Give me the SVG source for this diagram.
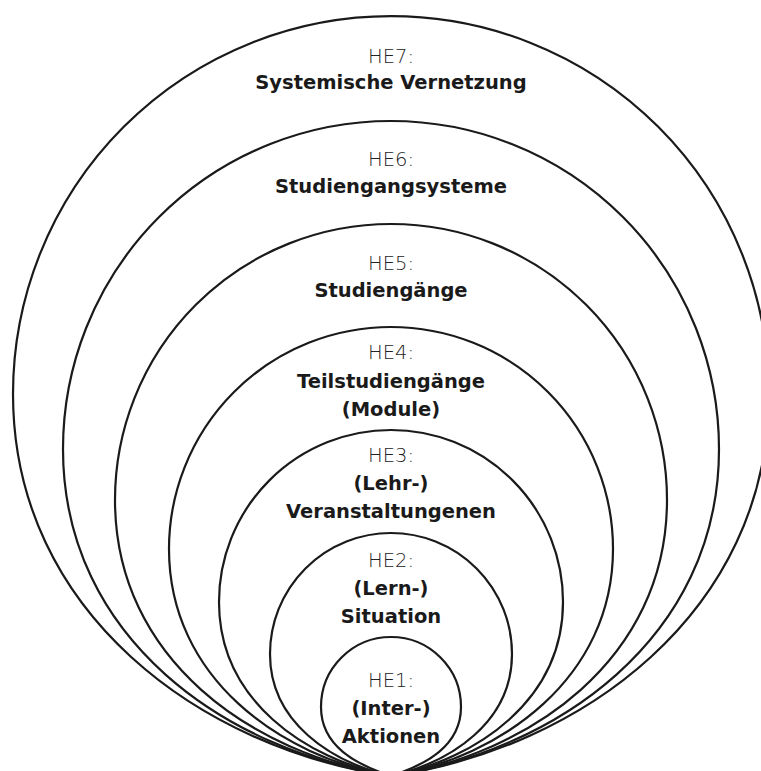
<svg xmlns="http://www.w3.org/2000/svg" width="761" height="771" viewBox="0 0 761 771">
<style>
.ring{fill:none;stroke:#1a1a1a;stroke-width:2.2;stroke-linejoin:round}
.lv{font-family:"DejaVu Sans","Liberation Sans",sans-serif;font-size:19.5px;font-weight:200;fill:#222;text-anchor:middle}
.lb{font-family:"DejaVu Sans","Liberation Sans",sans-serif;font-size:19.5px;font-weight:bold;fill:#1a1a1a;text-anchor:middle}
</style>
<rect width="761" height="771" fill="#fff"/>
<g id="he7">
<path class="ring" d="M13,394 A378,378 0 0 1 769,394 C769,613 580,749 391,776 C202,749 13,613 13,394 Z"/>
<text class="lv" x="391" y="63">HE7:</text>
<text class="lb" x="391" y="89">Systemische Vernetzung</text>
</g>
<g id="he6">
<path class="ring" d="M63,449 A328,328 0 0 1 719,449 C719,639 555,751.6 391,776 C227,751.6 63,639 63,449 Z"/>
<text class="lv" x="391" y="166">HE6:</text>
<text class="lb" x="391" y="193">Studiengangsysteme</text>
</g>
<g id="he5">
<path class="ring" d="M115,500 A276,276 0 0 1 667,500 C667,660 529,754.2 391,776 C253,754.2 115,660 115,500 Z"/>
<text class="lv" x="391" y="270">HE5:</text>
<text class="lb" x="391" y="297">Studiengänge</text>
</g>
<g id="he4">
<path class="ring" d="M169,549 A222,222 0 0 1 613,549 C613,677.8 502,757 391,776 C280,757 169,677.8 169,549 Z"/>
<text class="lv" x="391" y="359">HE4:</text>
<text class="lb" x="391" y="388">Teilstudiengänge</text>
<text class="lb" x="391" y="416">(Module)</text>
</g>
<g id="he3">
<path class="ring" d="M219,602 A172,172 0 0 1 563,602 C563,700 477,759.4 391,776 C305,759.4 219,700 219,602 Z"/>
<text class="lv" x="391" y="462">HE3:</text>
<text class="lb" x="391" y="490">(Lehr-)</text>
<text class="lb" x="391" y="518">Veranstaltungenen</text>
</g>
<g id="he2">
<path class="ring" d="M270,654 A121,121 0 0 1 512,654 C512,722 451.5,762 391,776 C330.5,762 270,722 270,654 Z"/>
<text class="lv" x="391" y="567">HE2:</text>
<text class="lb" x="391" y="595">(Lern-)</text>
<text class="lb" x="391" y="623">Situation</text>
</g>
<g id="he1">
<path class="ring" d="M321,707 A70,70 0 0 1 461,707 C461,746 426,764.5 391,776 C356,764.5 321,746 321,707 Z"/>
<text class="lv" x="391" y="687">HE1:</text>
<text class="lb" x="391" y="715">(Inter-)</text>
<text class="lb" x="391" y="743">Aktionen</text>
</g>
<g id="connectors"/>
</svg>
